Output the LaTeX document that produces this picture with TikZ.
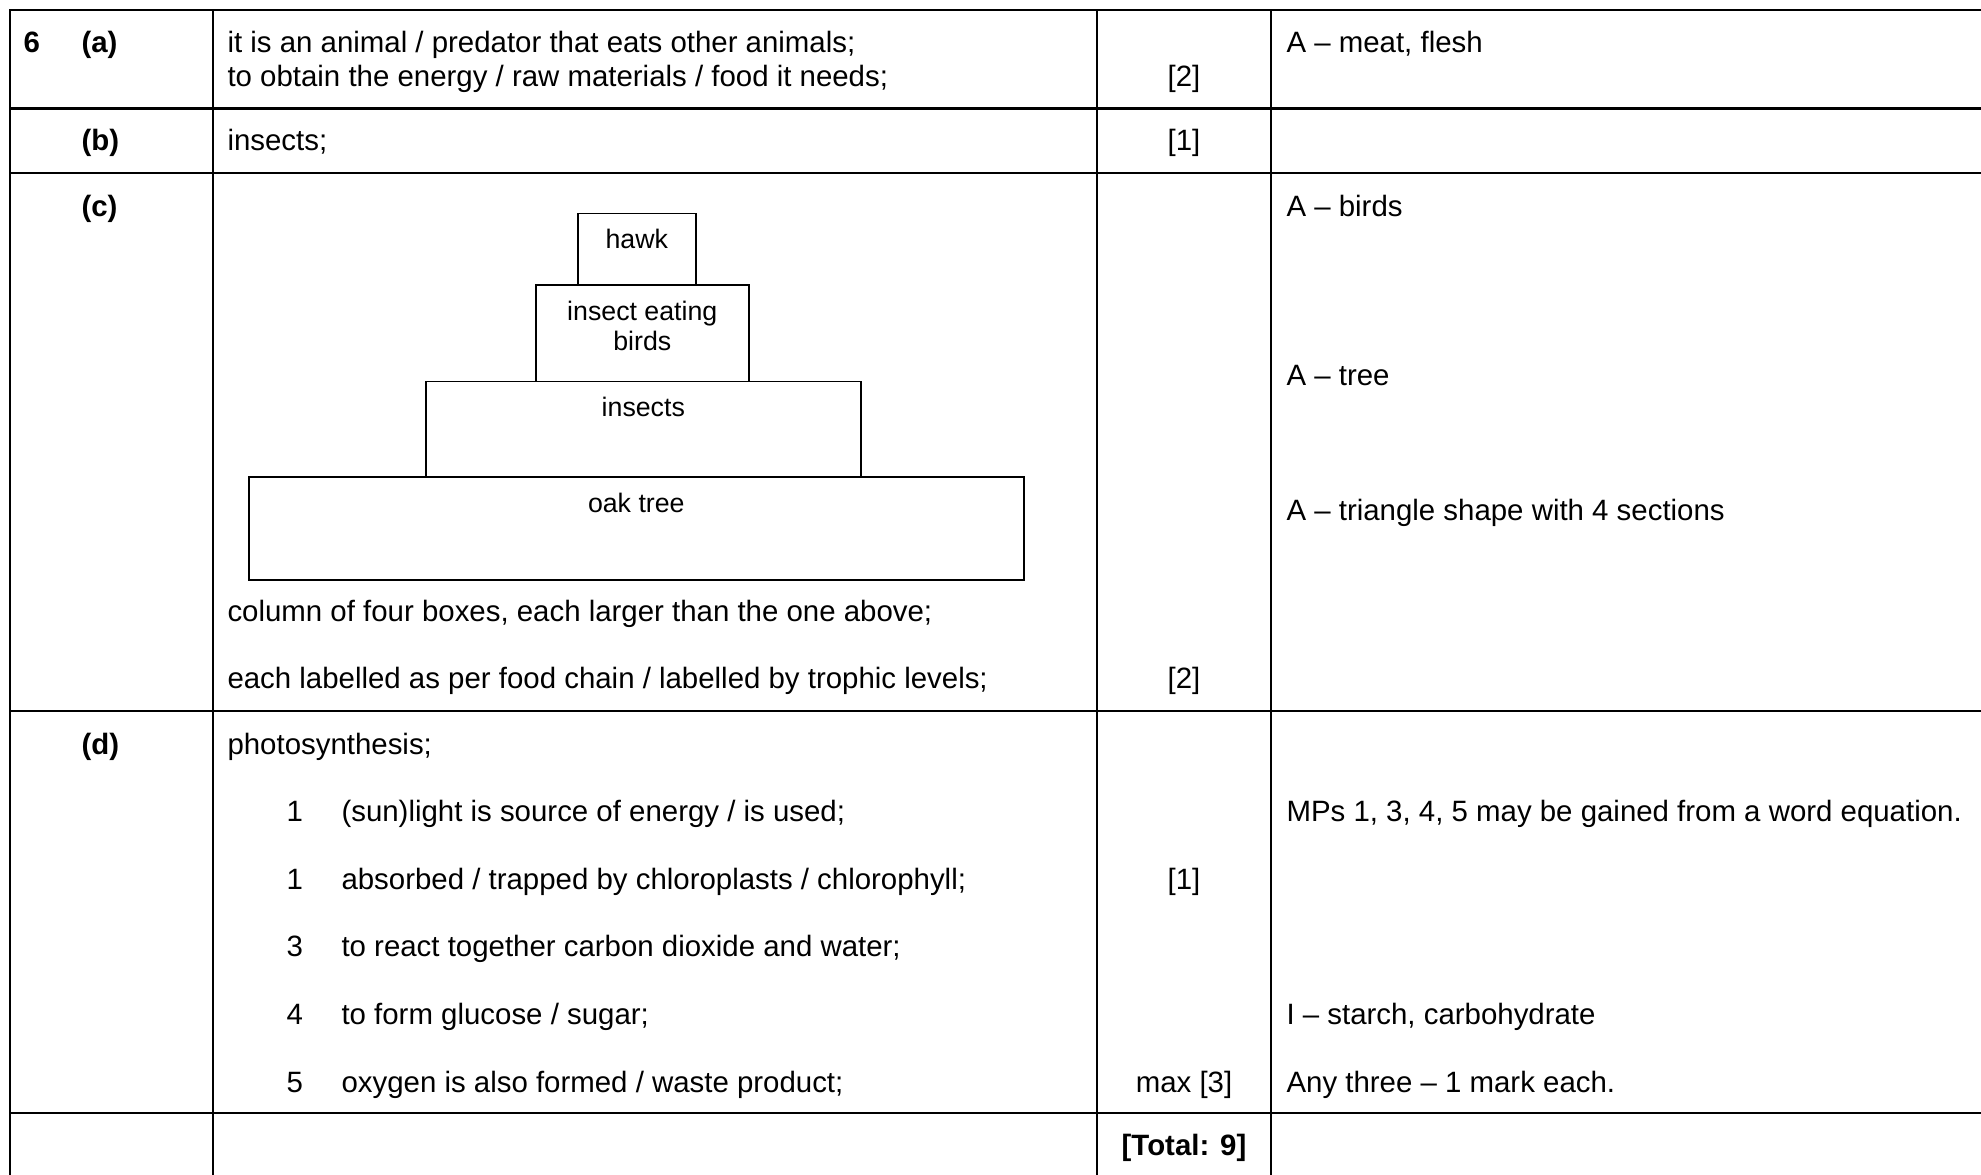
\documentclass[tikz,border=0pt]{standalone}
\usepackage{fontspec}
\setmainfont{Liberation Sans}
\usetikzlibrary{calc}

\begin{document}
\begin{tikzpicture}[x=0.374pt, y=-0.374pt,
    font=\fontsize{11}{12.65}\selectfont,
    grid/.style={line width=0.9pt, line cap=rect},
    cell/.style={anchor=base west, inner sep=0pt},
    qlabel/.style={cell, font=\fontsize{11}{12.65}\selectfont\bfseries},
    markcell/.style={anchor=base, inner sep=0pt},
    level/.style={draw, line width=0.6pt, anchor=north west, inner sep=0pt},
    leveltext/.style={anchor=base, inner sep=0pt, align=center, font=\fontsize{10}{11.5}\selectfont}]

  % Define parameters
  \def\px{0.374pt}  % one pixel of the page
  \def\colA{10}     % left edge of the table
  \def\colB{213}    % answer column
  \def\colC{1097}   % marks column
  \def\colD{1271}   % guidance column
  \def\qX{23}       % question number
  \def\partX{81}    % part letter
  \def\ansX{227}    % answer text
  \def\markX{1184}  % centre of the marks column
  \def\noteX{1286}  % guidance text
  \def\numX{286}    % marking point numbers
  \def\mpX{341}     % marking point text

  \useasboundingbox (0,0) rectangle (1981,1174);
  \clip (0,0) rectangle (1981,1174);

  %% Table lines
  \foreach \y in {10, 108.6, 173, 711, 1113} {
      \draw[grid] (\colA, \y) -- (2000, \y);
  }
  \foreach \x in {\colA, \colB, \colC, \colD} {
      \draw[grid] (\x, 10) -- (\x, 1200);
  }

  % Part (a)
  \node[qlabel] (qSix) at (\qX, 52) {6};
  \node[qlabel] (partA) at (\partX, 52) {(a)};
  \node[cell] (ansAone) at (\ansX, 52) {it is an animal / predator that eats other animals;};
  \node[cell] (ansAtwo) at (\ansX, 86) {to obtain the energy / raw materials / food it needs;};
  \node[markcell] (markA) at (\markX, 86) {[2]};
  \node[cell] (noteA) at (\noteX, 52) {A – meat, flesh};

  % Part (b)
  \node[qlabel] (partB) at (\partX, 150.5) {(b)};
  \node[cell] (ansB) at (\ansX, 150.5) {insects;};
  \node[markcell] (markB) at (\markX, 150.5) {[1]};

  % Part (c): pyramid of numbers
  \node[qlabel] (partC) at (\partX, 216) {(c)};
  \node[level, minimum width=118*\px, minimum height=71.5*\px] (hawk) at (577, 212.7) {};
  \node[level, minimum width=213*\px, minimum height=96.5*\px] (birds) at (535, 284.2) {};
  \node[level, minimum width=435*\px, minimum height=95.3*\px] (insects) at (425, 380.7) {};
  \node[level, minimum width=775*\px, minimum height=103*\px] (oak) at (248, 476) {};
  \node[leveltext] (hawkText) at ($(hawk.north)+(0,36)$) {hawk};
  % two lines: base sits on the second line
  \node[leveltext] (birdsText) at ($(birds.north)+(0,66.7)$) {insect eating\\birds};
  \node[leveltext] (insectsText) at ($(insects.north)+(0,36)$) {insects};
  \node[leveltext] (oakText) at ($(oak.north)+(0,36)$) {oak tree};

  \node[cell] (ansCone) at (\ansX, 621.8) {column of four boxes, each larger than the one above;};
  \node[cell] (ansCtwo) at (\ansX, 688.7) {each labelled as per food chain / labelled by trophic levels;};
  \node[markcell] (markC) at (\markX, 688.7) {[2]};
  \node[cell] (noteCone) at (\noteX, 216) {A – birds};
  \node[cell] (noteCtwo) at (\noteX, 385.5) {A – tree};
  \node[cell] (noteCthree) at (\noteX, 520.7) {A – triangle shape with 4 sections};

  % Part (d)
  \node[qlabel] (partD) at (\partX, 754) {(d)};
  \node[cell] (ansD) at (\ansX, 754) {photosynthesis;};
  \node[cell] (numOne) at (\numX, 821.6) {1};
  \node[cell] (mpOne) at (\mpX, 821.6) {(sun)light is source of energy / is used;};
  \node[cell] (numTwo) at (\numX, 889.2) {1};
  \node[cell] (mpTwo) at (\mpX, 889.2) {absorbed / trapped by chloroplasts / chlorophyll;};
  \node[cell] (numThree) at (\numX, 956.8) {3};
  \node[cell] (mpThree) at (\mpX, 956.8) {to react together carbon dioxide and water;};
  \node[cell] (numFour) at (\numX, 1024.4) {4};
  \node[cell] (mpFour) at (\mpX, 1024.4) {to form glucose / sugar;};
  \node[cell] (numFive) at (\numX, 1092) {5};
  \node[cell] (mpFive) at (\mpX, 1092) {oxygen is also formed / waste product;};
  \node[markcell] (markDone) at (\markX, 889.2) {[1]};
  \node[markcell] (markDtwo) at (\markX, 1092) {max [3]};
  \node[cell] (noteDone) at (\noteX, 821.6) {MPs 1, 3, 4, 5 may be gained from a word equation.};
  \node[cell] (noteDtwo) at (\noteX, 1024.4) {I – starch, carbohydrate};
  \node[cell] (noteDthree) at (\noteX, 1092) {Any three – 1 mark each.};

  % Total
  \node[markcell, font=\fontsize{11}{12.65}\selectfont\bfseries] (total) at (\markX, 1155) {[Total: 9]};

\end{tikzpicture}
\end{document}
